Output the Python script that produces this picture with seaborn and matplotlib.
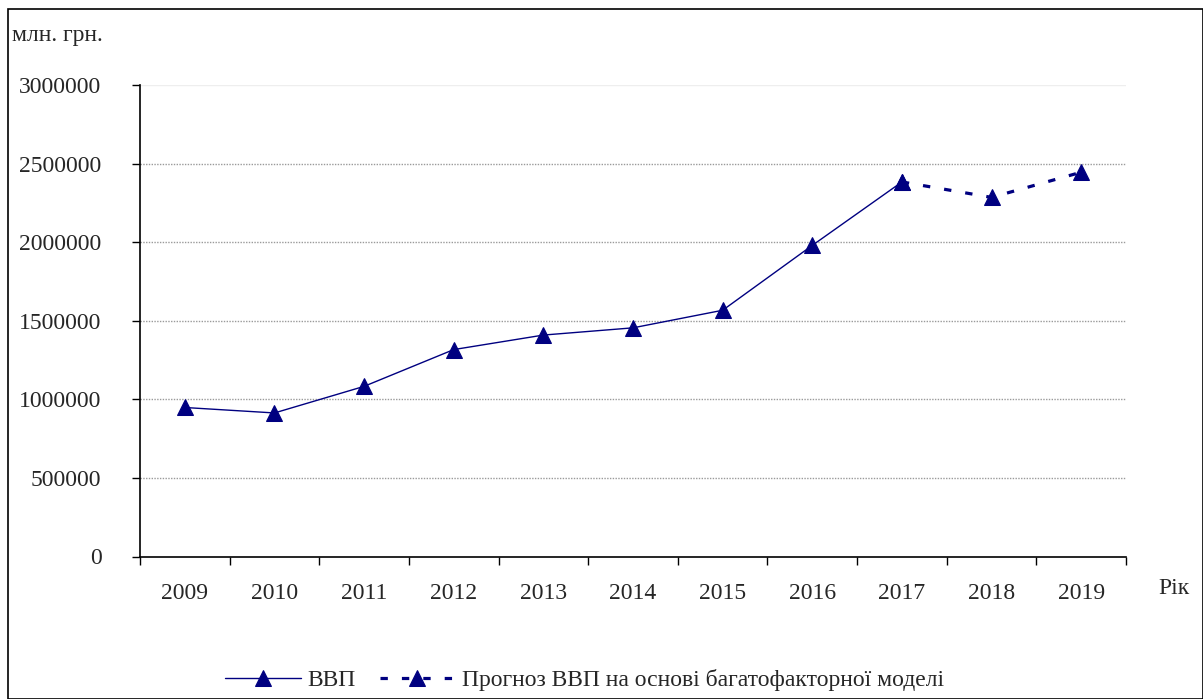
import matplotlib
matplotlib.use("Agg")
import matplotlib.pyplot as plt
import seaborn as sns
import pandas as pd
from matplotlib.patches import Rectangle
from matplotlib.ticker import FixedLocator, NullFormatter

# GDP, mln UAH
years = ["2009", "2010", "2011", "2012", "2013", "2014", "2015", "2016", "2017", "2018", "2019"]
gdp_years = years[:9]
gdp_values = [948056, 913345, 1082569, 1316600, 1408889, 1454931, 1566728, 1979458, 2383182]
forecast_years = ["2017", "2018", "2019"]
forecast_values = [2383182, 2285000, 2445000]
y_ticks = [0, 500000, 1000000, 1500000, 2000000, 2500000, 3000000]

label_gdp = "ВВП"
label_forecast = "Прогноз ВВП на основі багатофакторної моделі"

sns.set_theme(style="white")
plt.rcParams["font.family"] = ["Liberation Serif", "DejaVu Serif"]
plt.rcParams["font.size"] = 17

fig = plt.figure(figsize=(12.03, 6.99), dpi=100)
ax = fig.add_axes([140 / 1203, 1 - 556.5 / 699, (1126 - 140) / 1203, (556.5 - 85) / 699])

navy = "#000080"
df_gdp = pd.DataFrame({"year": gdp_years, "value": gdp_values})
df_fc = pd.DataFrame({"year": forecast_years, "value": forecast_values})

sns.lineplot(data=df_gdp, x="year", y="value", ax=ax, color=navy, lw=1.0,
             marker="^", markersize=11, markeredgecolor=navy, label=label_gdp, zorder=3)
sns.lineplot(data=df_fc, x="year", y="value", ax=ax, color=navy, lw=2.3,
             linestyle=(0, (2.3, 4.4)), marker="^", markersize=11, markeredgecolor=navy,
             label=label_forecast, zorder=3)

ax.set_xlim(-0.5, len(years) - 0.5)
ax.set_ylim(0, 3000000)

# gridlines
for v in y_ticks[1:-1]:
    ax.axhline(v, color="#9a9a9a", lw=1.0, ls=(0, (1, 1)), zorder=1)
ax.axhline(3000000, color="#eeeeee", lw=1.0, zorder=1)

ax.set_yticks(y_ticks)
ax.set_yticklabels([str(v) for v in y_ticks], fontsize=17)
ax.set_xticks(range(len(years)))
ax.set_xticklabels(years, fontsize=17)
ax.tick_params(axis="x", which="major", length=0, pad=19)
ax.xaxis.set_minor_locator(FixedLocator([i - 0.5 for i in range(len(years) + 1)]))
ax.xaxis.set_minor_formatter(NullFormatter())
ax.tick_params(axis="x", which="minor", length=6, width=1, color="black", direction="out", bottom=True)
ax.tick_params(axis="y", length=5.8, width=1, color="black", direction="out", left=True, pad=22)

for s in ["top", "right"]:
    ax.spines[s].set_visible(False)
for s in ["left", "bottom"]:
    ax.spines[s].set_color("black")
    ax.spines[s].set_linewidth(1.2)

ax.set_xlabel("")
ax.set_ylabel("")
ax.legend_.remove()
handles, labels = ax.get_legend_handles_labels()
fig.legend(handles, labels, loc="center", bbox_to_anchor=(0.486, 1 - 680 / 699), ncol=2,
           frameon=False, fontsize=17, handlelength=3.2, columnspacing=1.0, handletextpad=0.3)

fig.text(12 / 1203, 1 - 36 / 699, "млн. грн.", fontsize=17, ha="left", va="center")
fig.text(1158 / 1203, 1 - 589 / 699, "Рік", fontsize=17, ha="left", va="center")

fig.patches.append(Rectangle((8 / 1203, 0.5 / 699), 1 - 8.5 / 1203, 1 - 9.5 / 699,
                             transform=fig.transFigure, fill=False, ec="black", lw=1.2))

fig.savefig("out.png", dpi=100, facecolor="white")
